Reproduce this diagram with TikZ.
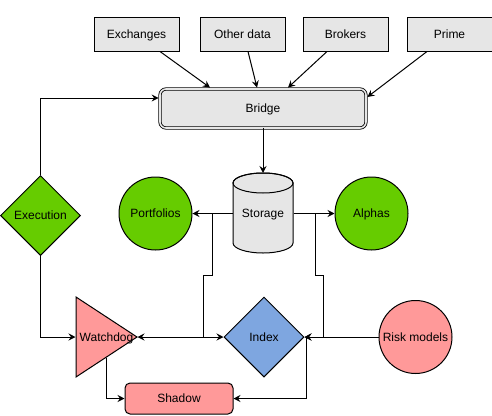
\documentclass[tikz,border=0pt]{standalone}
\usepackage{fontspec}
\setmainfont{Liberation Sans}
\usetikzlibrary{arrows.meta,shapes.geometric,calc}
\definecolor{boxgray}{HTML}{E6E6E6}
\definecolor{dgreen}{HTML}{66CC00}
\definecolor{dpink}{HTML}{FF9999}
\definecolor{dblue}{HTML}{7EA6E0}
\tikzset{
  base/.style={line width=1pt, font=\fontsize{12}{14}\selectfont, text=black, inner sep=0pt, text height=8pt, text depth=0pt},
  srcbox/.style={base, draw, fill=boxgray, minimum width=85pt, minimum height=34pt},
  bridgebox/.style={base, draw, fill=boxgray, rounded corners=6pt, double=boxgray, double distance=1.6pt, line width=0.8pt, minimum width=206pt, minimum height=39pt},
  greencirc/.style={base, draw, fill=dgreen, circle, minimum size=73pt},
  pinkcirc/.style={base, draw, fill=dpink, circle, minimum size=73pt},
  dia/.style={base, draw, diamond, minimum width=80pt, minimum height=80pt},
  arr/.style={line width=1pt, -{Stealth[length=7pt,width=7pt,inset=2.5pt]}},
}
\begin{document}
\begin{tikzpicture}[x=1pt,y=-1pt]
\useasboundingbox (0,0) rectangle (492,415);
% source boxes
\node[srcbox] (exch) at (136.5,34) {Exchanges};
\node[srcbox] (other) at (242.5,34) {Other data};
\node[srcbox] (brok) at (345.5,34) {Brokers};
\node[srcbox] (prime) at (449.5,34) {Prime};
% bridge
\node[bridgebox] (bridge) at (263,108.5) {Bridge};
% storage cylinder
\draw[line width=1pt, fill=boxgray] (233,183) -- (233,243)
  arc[start angle=180, end angle=360, x radius=30pt, y radius=10pt]
  -- (293,183)
  arc[start angle=0, end angle=180, x radius=30pt, y radius=10pt] -- cycle;
\draw[line width=1pt] (263,183) ellipse [x radius=30pt, y radius=10pt];
\node[base, minimum width=60pt, minimum height=80pt] (storage) at (263,213.5) {Storage};
% circles
\node[greencirc] (port) at (155.5,213.5) {Portfolios};
\node[greencirc] (alpha) at (371.5,213.5) {Alphas};
\node[pinkcirc] (risk) at (415.5,337) {Risk models};
% diamonds
\node[dia, fill=dgreen] (exec) at (40.5,215.5) {Execution};
\node[dia, fill=dblue] (index) at (264,337) {Index};
% watchdog triangle
\draw[line width=1pt, fill=dpink] (76,297) -- (137,337) -- (76,377) -- cycle;
\node[base, minimum width=61pt, minimum height=80pt] (wd) at (106.5,337) {Watchdog};
% shadow
\node[base, draw, fill=dpink, rounded corners=5pt, minimum width=108pt, minimum height=31pt] (shadow) at (179,398.5) {Shadow};
% connectors: sources to bridge
\draw[arr] ($(exch.south)+(23.5,0)$) -- ($(bridge.north)+(-53,-1)$);
\draw[arr] ($(other.south)+(5.5,0)$) -- ($(bridge.north)+(-6,-1)$);
\draw[arr] ($(brok.south)+(-18.5,0)$) -- ($(bridge.north)+(25,-1)$);
\draw[arr] ($(prime.south)+(-22.5,0)$) -- ($(bridge.east)+(1,-11.5)$);
% execution loops
\draw[arr] (exec.north) |- ($(bridge.west)+(-1,-10.5)$);
\draw[arr] (exec.south) |- (wd.west);
% bridge to storage
\draw[arr] (bridge.south) -- (storage.north);
% storage outputs
\draw[arr] (storage.west) -- (port.east);
\draw[arr] (storage.east) -- (alpha.west);
\coordinate (lj) at (212,275);
\coordinate (lk) at (203,337);
\coordinate (rj) at (315,275);
\coordinate (rk) at (323,337);
\draw[arr] (storage.west) -| (lj) -| (lk) -- (wd.east);
\draw[arr] (storage.west) -| (lj) -| (lk) -- (index.west);
\draw[arr] (storage.east) -| (rj) -| (rk) -- (index.east);
\draw[arr] (risk.west) -- (index.east);
% to shadow
\draw[arr] ($(index.east)+(2,0)$) |- (shadow.east);
\draw[arr] ($(wd.south)+(0,-20)$) |- (shadow.west);
\end{tikzpicture}
\end{document}
